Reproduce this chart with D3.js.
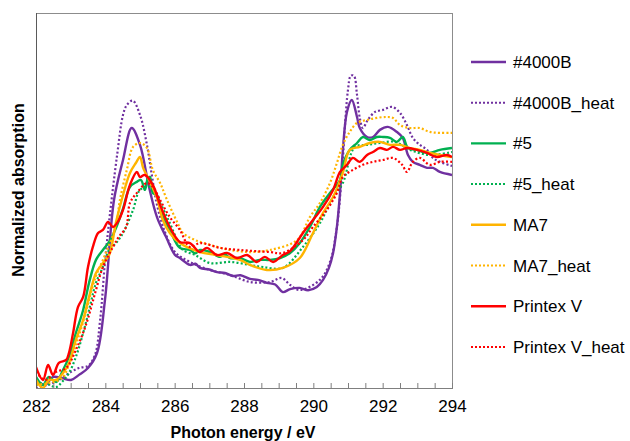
<!DOCTYPE html>
<html>
<head>
<meta charset="utf-8">
<script src="https://cdn.jsdelivr.net/npm/d3@7/dist/d3.min.js"></script>
<style>
  body { margin: 0; background: #fff; }
  svg { font-family: "Liberation Sans", Arial, sans-serif; }
</style>
</head>
<body>
<svg id="chart" width="630" height="441"></svg>
<script>
// [photon energy (eV), normalized absorption]
const s4000B = [[282.00,0.035],[282.26,0.013],[282.49,0.048],[282.75,0.043],[283.01,0.035],[283.24,0.057],[283.50,0.087],[283.76,0.152],[283.99,0.383],[284.25,0.817],[284.51,0.991],[284.76,1.130],[285.00,1.057],[285.26,0.874],[285.49,0.743],[285.75,0.657],[286.01,0.578],[286.15,0.565],[286.44,0.535],[286.60,0.540],[286.73,0.522],[287.00,0.515],[287.22,0.504],[287.45,0.500],[287.68,0.487],[287.90,0.490],[288.17,0.474],[288.40,0.470],[288.66,0.457],[288.90,0.450],[289.12,0.417],[289.33,0.430],[289.61,0.435],[289.85,0.425],[290.10,0.439],[290.28,0.470],[290.45,0.522],[290.57,0.587],[290.68,0.700],[290.77,0.848],[290.85,1.030],[290.97,1.200],[291.11,1.252],[291.26,1.178],[291.34,1.130],[291.55,1.091],[291.72,1.091],[291.92,1.122],[292.15,1.135],[292.41,1.113],[292.58,1.087],[292.73,1.013],[292.87,0.983],[293.07,0.970],[293.28,0.957],[293.45,0.957],[293.65,0.939],[294.00,0.926]];
const s4000B_heat = [[282.00,0.000],[282.26,0.009],[282.49,0.022],[282.75,0.043],[283.01,0.070],[283.24,0.087],[283.50,0.096],[283.70,0.143],[283.85,0.296],[283.99,0.548],[284.13,0.752],[284.34,1.013],[284.51,1.187],[284.62,1.230],[284.79,1.249],[285.00,1.187],[285.19,1.065],[285.34,0.926],[285.49,0.796],[285.72,0.678],[286.01,0.591],[286.44,0.548],[287.02,0.513],[287.60,0.491],[288.17,0.461],[288.75,0.461],[289.09,0.478],[289.33,0.448],[289.61,0.426],[290.19,0.470],[290.48,0.548],[290.68,0.700],[290.83,0.948],[290.91,1.135],[291.00,1.296],[291.08,1.357],[291.17,1.357],[291.26,1.274],[291.34,1.174],[291.43,1.130],[291.57,1.165],[291.78,1.200],[292.01,1.209],[292.27,1.222],[292.50,1.196],[292.70,1.143],[292.87,1.087],[293.07,1.057],[293.28,1.035],[293.45,1.000],[293.65,0.983],[294.00,0.965]];
const s5 = [[282.00,0.048],[282.20,0.013],[282.37,0.048],[282.58,0.026],[282.78,0.078],[282.95,0.135],[283.15,0.239],[283.36,0.339],[283.53,0.457],[283.73,0.557],[283.93,0.600],[284.11,0.635],[284.31,0.696],[284.51,0.780],[284.71,0.874],[284.91,0.896],[285.03,0.904],[285.14,0.861],[285.23,0.913],[285.29,0.917],[285.37,0.848],[285.49,0.839],[285.66,0.743],[285.86,0.687],[286.15,0.609],[286.44,0.600],[286.60,0.585],[286.73,0.600],[287.02,0.591],[287.31,0.570],[287.45,0.580],[287.60,0.565],[287.88,0.565],[288.17,0.548],[288.46,0.557],[288.75,0.557],[289.04,0.565],[289.33,0.587],[289.61,0.630],[289.90,0.700],[290.19,0.787],[290.48,0.848],[290.77,0.904],[290.85,0.970],[291.05,1.035],[291.26,1.065],[291.43,1.091],[291.63,1.078],[291.83,1.091],[292.01,1.091],[292.21,1.087],[292.41,1.070],[292.58,1.091],[292.73,1.043],[292.99,1.035],[293.16,1.026],[293.36,1.022],[293.65,1.035],[294.00,1.043]];
const s5_heat = [[282.00,0.013],[282.26,0.022],[282.58,0.004],[282.75,0.026],[282.95,0.065],[283.15,0.135],[283.36,0.239],[283.53,0.339],[283.73,0.457],[283.93,0.526],[284.11,0.600],[284.31,0.630],[284.51,0.674],[284.80,0.774],[285.00,0.861],[285.29,0.874],[285.58,0.804],[285.86,0.717],[286.07,0.643],[286.24,0.600],[286.59,0.578],[287.02,0.543],[287.60,0.548],[288.17,0.535],[288.55,0.526],[289.12,0.522],[289.70,0.613],[290.19,0.717],[290.57,0.830],[290.85,0.891],[291.20,1.048],[291.55,1.057],[291.92,1.065],[292.35,1.070],[292.79,1.035],[293.36,1.013],[294.00,1.026]];
const sMA7 = [[282.00,0.035],[282.20,0.000],[282.37,0.035],[282.58,0.035],[282.78,0.065],[282.95,0.109],[283.15,0.209],[283.36,0.296],[283.53,0.396],[283.73,0.500],[283.93,0.543],[284.11,0.578],[284.31,0.722],[284.51,0.839],[284.71,0.935],[284.88,0.978],[285.00,1.004],[285.09,0.957],[285.29,0.896],[285.49,0.826],[285.66,0.730],[285.86,0.674],[286.15,0.630],[286.73,0.591],[287.22,0.578],[287.88,0.557],[288.17,0.535],[288.66,0.513],[289.12,0.522],[289.61,0.565],[289.99,0.674],[290.28,0.761],[290.57,0.830],[290.85,0.935],[291.05,1.035],[291.34,1.048],[291.63,1.065],[291.92,1.070],[292.21,1.057],[292.50,1.057],[292.79,1.043],[293.07,1.035],[293.36,1.022],[293.65,1.013],[294.00,1.004]];
const sMA7_heat = [[282.00,0.013],[282.37,0.022],[282.75,0.043],[282.95,0.100],[283.15,0.187],[283.36,0.287],[283.53,0.383],[283.73,0.487],[283.93,0.557],[284.11,0.622],[284.31,0.709],[284.42,0.817],[284.62,0.948],[284.80,1.048],[285.00,1.065],[285.20,1.043],[285.37,0.948],[285.58,0.891],[285.78,0.817],[286.07,0.722],[286.24,0.674],[286.59,0.643],[287.02,0.622],[287.60,0.600],[288.17,0.591],[288.75,0.600],[289.53,0.643],[289.90,0.743],[290.19,0.804],[290.48,0.891],[290.68,0.978],[290.85,1.057],[291.05,1.113],[291.26,1.152],[291.55,1.165],[291.83,1.174],[292.12,1.178],[292.30,1.174],[292.50,1.143],[292.79,1.130],[293.07,1.130],[293.36,1.113],[293.65,1.109],[294.00,1.109]];
const sPrintexV = [[282.00,0.091],[282.20,0.035],[282.35,0.100],[282.49,0.057],[282.66,0.109],[282.87,0.122],[282.95,0.152],[283.07,0.239],[283.21,0.352],[283.36,0.396],[283.50,0.526],[283.64,0.613],[283.79,0.674],[283.93,0.687],[284.08,0.722],[284.22,0.700],[284.36,0.722],[284.51,0.774],[284.71,0.883],[284.91,0.939],[285.00,0.917],[285.14,0.926],[285.37,0.883],[285.58,0.796],[285.86,0.700],[286.15,0.635],[286.44,0.630],[286.73,0.591],[286.93,0.609],[287.22,0.578],[287.51,0.587],[287.80,0.565],[288.09,0.578],[288.37,0.548],[288.60,0.570],[288.84,0.548],[289.12,0.578],[289.33,0.595],[289.70,0.674],[289.99,0.730],[290.28,0.787],[290.57,0.861],[290.77,0.939],[290.97,0.970],[291.14,1.000],[291.34,0.983],[291.55,1.013],[291.72,1.026],[291.92,1.043],[292.12,1.035],[292.30,1.048],[292.50,1.035],[292.70,1.043],[292.99,1.035],[293.28,1.022],[293.56,1.004],[293.85,1.013],[294.00,1.004]];
const sPrintexV_heat = [[282.00,0.070],[282.26,0.035],[282.58,0.070],[282.87,0.087],[283.15,0.165],[283.44,0.274],[283.73,0.426],[283.93,0.526],[284.22,0.613],[284.39,0.657],[284.60,0.700],[284.71,0.804],[284.91,0.848],[285.20,0.891],[285.37,0.874],[285.58,0.817],[285.86,0.743],[286.15,0.687],[286.44,0.613],[286.73,0.630],[287.31,0.609],[287.88,0.600],[288.75,0.591],[289.12,0.587],[289.70,0.643],[289.99,0.700],[290.39,0.774],[290.68,0.848],[290.85,0.917],[291.14,0.948],[291.43,0.970],[291.72,0.983],[292.01,0.991],[292.30,1.000],[292.56,0.970],[292.70,0.939],[292.87,0.983],[293.07,1.000],[293.36,0.970],[293.65,0.983],[294.00,0.983]];

const seriesNames = ["#4000B", "#4000B_heat", "#5", "#5_heat", "MA7", "MA7_heat", "Printex V", "Printex V_heat"];
const seriesData = [s4000B, s4000B_heat, s5, s5_heat, sMA7, sMA7_heat, sPrintexV, sPrintexV_heat];
const seriesColors = ["#7030A0", "#7030A0", "#00B050", "#00B050", "#FFB400", "#FFB400", "#FF0000", "#FF0000"];
const seriesDotted = [false, true, false, true, false, true, false, true];
const xTicks = [282, 284, 286, 288, 290, 292, 294];

const svg = d3.select("#chart");
const plotL = 36, plotR = 452, plotT = 13, plotB = 388;

const x = d3.scaleLinear().domain([282, 294]).range([plotL, plotR]);
const y = d3.scaleLinear().domain([0, 1.63]).range([plotB, plotT]);

svg.append("clipPath").attr("id", "clip")
  .append("rect").attr("x", plotL).attr("y", plotT).attr("width", plotR - plotL).attr("height", plotB - plotT);

// plot frame
svg.append("rect")
  .attr("x", plotL).attr("y", plotT)
  .attr("width", plotR - plotL).attr("height", plotB - plotT)
  .attr("fill", "none").attr("stroke", "#8c8c8c").attr("stroke-width", 1)
  .attr("shape-rendering", "crispEdges");

const line = d3.line()
  .x(d => x(d[0]))
  .y(d => y(d[1]))
  .curve(d3.curveCatmullRom.alpha(0.5));

const g = svg.append("g").attr("clip-path", "url(#clip)");
seriesData.forEach((data, i) => {
  g.append("path")
    .datum(data)
    .attr("d", line)
    .attr("fill", "none")
    .attr("stroke", seriesColors[i])
    .attr("stroke-width", seriesDotted[i] ? 2.2 : 2.4)
    .attr("stroke-dasharray", seriesDotted[i] ? "2,2.2" : null)
    .attr("stroke-linejoin", "round");
});

// x axis, ticks pointing inward every 0.5 eV
const xAxis = d3.axisBottom(x)
  .tickValues(d3.range(282, 294.01, 0.5))
  .tickSize(-5)
  .tickPadding(12)
  .tickFormat(d => xTicks.includes(d) ? d : "");

const ax = svg.append("g")
  .attr("transform", `translate(0,${plotB})`)
  .call(xAxis);
ax.select(".domain").attr("stroke", "#7f7f7f");
ax.selectAll(".tick line").attr("stroke", "#7f7f7f");
ax.selectAll(".tick text")
  .attr("fill", "#000")
  .style("font-size", "17px")
  .style("font-family", "'Liberation Sans', Arial, sans-serif");

svg.append("line")
  .attr("x1", plotL).attr("x2", plotL).attr("y1", plotT).attr("y2", plotB)
  .attr("stroke", "#5a5a5a").attr("shape-rendering", "crispEdges");

// axis titles
svg.append("text")
  .attr("x", 243).attr("y", 438)
  .attr("text-anchor", "middle")
  .attr("font-size", "16px").attr("font-weight", "bold")
  .text("Photon energy / eV");

svg.append("text")
  .attr("transform", "translate(24,190) rotate(-90)")
  .attr("text-anchor", "middle")
  .attr("font-size", "16px").attr("font-weight", "bold")
  .text("Normalized absorption");

// legend
const legend = svg.append("g");
seriesNames.forEach((name, i) => {
  const ly = 62 + i * 40.7;
  legend.append("line")
    .attr("x1", 471).attr("x2", 506).attr("y1", ly).attr("y2", ly)
    .attr("stroke", seriesColors[i])
    .attr("stroke-width", seriesDotted[i] ? 2 : 2.4)
    .attr("stroke-dasharray", seriesDotted[i] ? "2,2" : null);
  legend.append("text")
    .attr("x", 513).attr("y", ly + 6)
    .attr("font-size", "17px")
    .attr("fill", "#000")
    .text(name);
});
</script>
</body>
</html>
